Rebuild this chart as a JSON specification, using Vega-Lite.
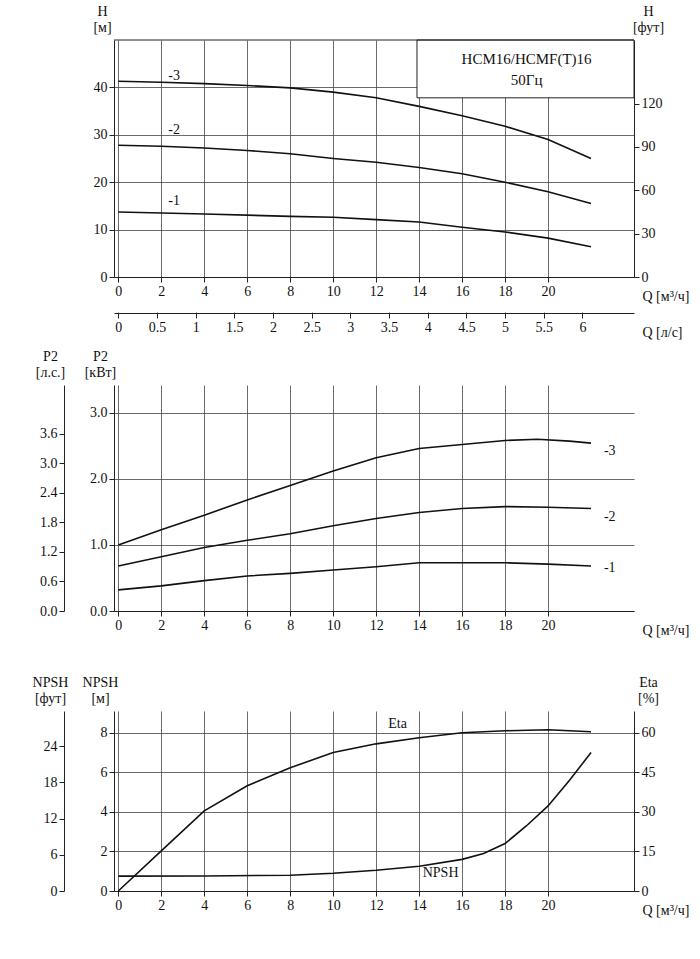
{
"$schema":"https://vega.github.io/schema/vega-lite/v6.json",
"background":"white",
"padding":{"left":32,"top":4,"right":5,"bottom":5},
"config":{"font":"Liberation Serif","view":{"stroke":null},
 "axis":{"labelFont":"Liberation Serif","titleFont":"Liberation Serif","labelFontSize":14,"titleFontSize":14,"titleFontWeight":"normal","labelColor":"#111","titleColor":"#111","domainColor":"#222","tickColor":"#222","gridColor":"#444","gridWidth":0.8,"titleAngle":0},
 "line":{"color":"#111","strokeWidth":1.6},
 "text":{"font":"Liberation Serif","fontSize":14,"color":"#111"}},
"datasets":{
 "H":[
  {"Q":0,"H":41.3,"c":"-3"},{"Q":2,"H":41.1,"c":"-3"},{"Q":4,"H":40.8,"c":"-3"},{"Q":6,"H":40.4,"c":"-3"},{"Q":8,"H":39.9,"c":"-3"},{"Q":10,"H":39.0,"c":"-3"},{"Q":12,"H":37.8,"c":"-3"},{"Q":14,"H":36.0,"c":"-3"},{"Q":16,"H":34.0,"c":"-3"},{"Q":18,"H":31.8,"c":"-3"},{"Q":20,"H":29.0,"c":"-3"},{"Q":22,"H":25.0,"c":"-3"},
  {"Q":0,"H":27.8,"c":"-2"},{"Q":2,"H":27.6,"c":"-2"},{"Q":4,"H":27.2,"c":"-2"},{"Q":6,"H":26.7,"c":"-2"},{"Q":8,"H":26.0,"c":"-2"},{"Q":10,"H":25.0,"c":"-2"},{"Q":12,"H":24.2,"c":"-2"},{"Q":14,"H":23.1,"c":"-2"},{"Q":16,"H":21.8,"c":"-2"},{"Q":18,"H":20.0,"c":"-2"},{"Q":20,"H":18.0,"c":"-2"},{"Q":22,"H":15.5,"c":"-2"},
  {"Q":0,"H":13.7,"c":"-1"},{"Q":4,"H":13.3,"c":"-1"},{"Q":8,"H":12.8,"c":"-1"},{"Q":10,"H":12.6,"c":"-1"},{"Q":12,"H":12.1,"c":"-1"},{"Q":14,"H":11.6,"c":"-1"},{"Q":16,"H":10.5,"c":"-1"},{"Q":18,"H":9.5,"c":"-1"},{"Q":20,"H":8.2,"c":"-1"},{"Q":22,"H":6.4,"c":"-1"}],
 "Hlab":[{"Q":2.6,"H":42.5,"t":"-3"},{"Q":2.6,"H":31,"t":"-2"},{"Q":2.6,"H":16,"t":"-1"}],
 "P":[
  {"Q":0,"P":1.0,"c":"-3"},{"Q":2,"P":1.23,"c":"-3"},{"Q":4,"P":1.45,"c":"-3"},{"Q":6,"P":1.68,"c":"-3"},{"Q":8,"P":1.9,"c":"-3"},{"Q":10,"P":2.12,"c":"-3"},{"Q":12,"P":2.32,"c":"-3"},{"Q":14,"P":2.46,"c":"-3"},{"Q":16,"P":2.52,"c":"-3"},{"Q":18,"P":2.58,"c":"-3"},{"Q":19.5,"P":2.6,"c":"-3"},{"Q":21,"P":2.57,"c":"-3"},{"Q":22,"P":2.54,"c":"-3"},
  {"Q":0,"P":0.68,"c":"-2"},{"Q":2,"P":0.82,"c":"-2"},{"Q":4,"P":0.96,"c":"-2"},{"Q":6,"P":1.07,"c":"-2"},{"Q":8,"P":1.17,"c":"-2"},{"Q":10,"P":1.29,"c":"-2"},{"Q":12,"P":1.4,"c":"-2"},{"Q":14,"P":1.49,"c":"-2"},{"Q":16,"P":1.55,"c":"-2"},{"Q":18,"P":1.58,"c":"-2"},{"Q":20,"P":1.57,"c":"-2"},{"Q":22,"P":1.55,"c":"-2"},
  {"Q":0,"P":0.32,"c":"-1"},{"Q":2,"P":0.38,"c":"-1"},{"Q":4,"P":0.46,"c":"-1"},{"Q":6,"P":0.53,"c":"-1"},{"Q":8,"P":0.57,"c":"-1"},{"Q":10,"P":0.62,"c":"-1"},{"Q":12,"P":0.67,"c":"-1"},{"Q":14,"P":0.73,"c":"-1"},{"Q":16,"P":0.73,"c":"-1"},{"Q":18,"P":0.73,"c":"-1"},{"Q":20,"P":0.71,"c":"-1"},{"Q":22,"P":0.68,"c":"-1"}],
 "Plab":[{"Q":22.6,"P":2.42,"t":"-3"},{"Q":22.6,"P":1.42,"t":"-2"},{"Q":22.6,"P":0.65,"t":"-1"}],
 "N":[
  {"Q":0,"v":0.75,"c":"NPSH"},{"Q":4,"v":0.76,"c":"NPSH"},{"Q":8,"v":0.8,"c":"NPSH"},{"Q":10,"v":0.9,"c":"NPSH"},{"Q":12,"v":1.05,"c":"NPSH"},{"Q":14,"v":1.25,"c":"NPSH"},{"Q":16,"v":1.6,"c":"NPSH"},{"Q":17,"v":1.9,"c":"NPSH"},{"Q":18,"v":2.4,"c":"NPSH"},{"Q":19,"v":3.3,"c":"NPSH"},{"Q":20,"v":4.3,"c":"NPSH"},{"Q":21,"v":5.6,"c":"NPSH"},{"Q":22,"v":7.0,"c":"NPSH"},
  {"Q":0,"v":0,"c":"Eta"},{"Q":2,"v":2.03,"c":"Eta"},{"Q":4,"v":4.05,"c":"Eta"},{"Q":6,"v":5.32,"c":"Eta"},{"Q":8,"v":6.23,"c":"Eta"},{"Q":10,"v":7.0,"c":"Eta"},{"Q":12,"v":7.44,"c":"Eta"},{"Q":14,"v":7.75,"c":"Eta"},{"Q":16,"v":8.0,"c":"Eta"},{"Q":18,"v":8.1,"c":"Eta"},{"Q":20,"v":8.15,"c":"Eta"},{"Q":22,"v":8.05,"c":"Eta"}],
 "Nlab":[{"Q":13,"v":8.1,"t":"Eta"},{"Q":15,"v":0.55,"t":"NPSH"}]
},
"vconcat":[
 {"vconcat":[
  {"width":520,"height":237,
   "layer":[
    {"layer":[
     {"data":{"name":"H"},"mark":"line",
      "encoding":{"x":{"field":"Q","type":"quantitative","scale":{"domain":[-0.2,24],"nice":false,"zero":false},"axis":{"values":[0,2,4,6,8,10,12,14,16,18,20],"grid":true,"title":"Q [м³/ч]","titleX":528,"titleY":12,"titleAlign":"left","titleBaseline":"top"}},
       "y":{"field":"H","type":"quantitative","scale":{"domain":[0,50],"nice":false},"axis":{"values":[0,10,20,30,40],"grid":true,"title":["H","[м]"],"titleX":-12,"titleY":-22,"titleAlign":"center"}},
       "detail":{"field":"c"}}},
     {"data":{"name":"Hlab"},"mark":{"type":"text","align":"center"},"encoding":{"x":{"field":"Q","type":"quantitative"},"y":{"field":"H","type":"quantitative"},"text":{"field":"t"}}},
     {"data":{"values":[{"a":13.9,"b":24,"c":37.8,"d":50}]},"mark":{"type":"rect","fill":"white","stroke":"#222","strokeWidth":1},
      "encoding":{"x":{"field":"a","type":"quantitative"},"x2":{"field":"b"},"y":{"field":"c","type":"quantitative"},"y2":{"field":"d"}}},
     {"data":{"values":[{"Q":19,"H":46,"t":"НСМ16/НСМF(T)16"},{"Q":19,"H":41.5,"t":"50Гц"}]},"mark":{"type":"text","fontSize":15},"encoding":{"x":{"field":"Q","type":"quantitative"},"y":{"field":"H","type":"quantitative"},"text":{"field":"t"}}},
     {"data":{"values":[{"a":-0.2,"b":24,"y":50}]},"mark":{"type":"rule","color":"#222"},"encoding":{"x":{"field":"a","type":"quantitative"},"x2":{"field":"b"},"y":{"field":"y","type":"quantitative"}}}
    ]},
    {"data":{"values":[{"Q":0,"ft":0}]},"mark":{"type":"point","opacity":0},
     "encoding":{"x":{"field":"Q","type":"quantitative"},"y":{"field":"ft","type":"quantitative","scale":{"domain":[0,164.04],"nice":false},"axis":{"orient":"right","values":[0,30,60,90,120],"grid":false,"title":["H","[фут]"],"titleX":14,"titleY":-22,"titleAlign":"center"}}}}
   ],
   "resolve":{"scale":{"y":"independent"}}},
  {"width":520,"height":1,
   "data":{"values":[{"q":0}]},"mark":{"type":"point","opacity":0},
   "encoding":{"x":{"field":"q","type":"quantitative","scale":{"domain":[-0.0556,6.667],"nice":false,"zero":false},"axis":{"values":[0,0.5,1,1.5,2,2.5,3,3.5,4,4.5,5,5.5,6],"format":"~g","title":"Q [л/с]","titleX":528,"titleY":12,"titleAlign":"left","titleBaseline":"top"}}}}
 ],"spacing":6},
 {"vconcat":[
  {"width":520,"height":226,
   "layer":[
    {"layer":[
     {"data":{"name":"P"},"mark":"line",
      "encoding":{"x":{"field":"Q","type":"quantitative","scale":{"domain":[-0.2,24],"nice":false,"zero":false},"axis":{"values":[0,2,4,6,8,10,12,14,16,18,20],"grid":true,"title":"Q [м³/ч]","titleX":528,"titleY":12,"titleAlign":"left","titleBaseline":"top"}},
       "y":{"field":"P","type":"quantitative","scale":{"domain":[0,3.42],"nice":false},"axis":{"values":[0,0.5,1,1.5,2,2.5,3],"format":".1f","grid":true,"title":["P2","[кВт]"],"titleX":-14,"titleY":-22,"titleAlign":"center"}},
       "detail":{"field":"c"}}},
     {"data":{"name":"Plab"},"mark":{"type":"text","align":"left"},"encoding":{"x":{"field":"Q","type":"quantitative"},"y":{"field":"P","type":"quantitative"},"text":{"field":"t"}}}
    ]},
    {"data":{"values":[{"Q":0,"hp":0}]},"mark":{"type":"point","opacity":0},
     "encoding":{"x":{"field":"Q","type":"quantitative"},"y":{"field":"hp","type":"quantitative","scale":{"domain":[0,4.59],"nice":false},"axis":{"orient":"left","offset":50,"values":[0,0.6,1.2,1.8,2.4,3.0,3.6],"format":".1f","grid":false,"title":["P2","[л.с.]"],"titleX":-14,"titleY":-22,"titleAlign":"center"}}}}
   ],
   "resolve":{"scale":{"y":"independent"}}},
  {"width":520,"height":180,
   "layer":[
    {"layer":[
     {"data":{"name":"N"},"mark":"line",
      "encoding":{"x":{"field":"Q","type":"quantitative","scale":{"domain":[-0.2,24],"nice":false,"zero":false},"axis":{"values":[0,2,4,6,8,10,12,14,16,18,20],"grid":true,"title":"Q [м³/ч]","titleX":528,"titleY":12,"titleAlign":"left","titleBaseline":"top"}},
       "y":{"field":"v","type":"quantitative","scale":{"domain":[0,9.1],"nice":false},"axis":{"values":[0,2,4,6,8],"grid":true,"title":["NPSH","[м]"],"titleX":-14,"titleY":-22,"titleAlign":"center"}},
       "detail":{"field":"c"}}},
     {"data":{"name":"Nlab"},"mark":{"type":"text","baseline":"bottom"},"encoding":{"x":{"field":"Q","type":"quantitative"},"y":{"field":"v","type":"quantitative"},"text":{"field":"t"}}}
    ]},
    {"data":{"values":[{"Q":0,"ft":0}]},"mark":{"type":"point","opacity":0},
     "encoding":{"x":{"field":"Q","type":"quantitative"},"y":{"field":"ft","type":"quantitative","scale":{"domain":[0,29.86],"nice":false},"axis":{"orient":"left","offset":50,"values":[0,6,12,18,24],"grid":false,"title":["NPSH","[фут]"],"titleX":-14,"titleY":-22,"titleAlign":"center"}}}},
    {"data":{"values":[{"Q":0,"e":0}]},"mark":{"type":"point","opacity":0},
     "encoding":{"x":{"field":"Q","type":"quantitative"},"y":{"field":"e","type":"quantitative","scale":{"domain":[0,68.25],"nice":false},"axis":{"orient":"right","values":[0,15,30,45,60],"grid":false,"title":["Eta","[%]"],"titleX":14,"titleY":-22,"titleAlign":"center"}}}}
   ],
   "resolve":{"scale":{"y":"independent"}}}
 ],"spacing":38}
],"spacing":10}
